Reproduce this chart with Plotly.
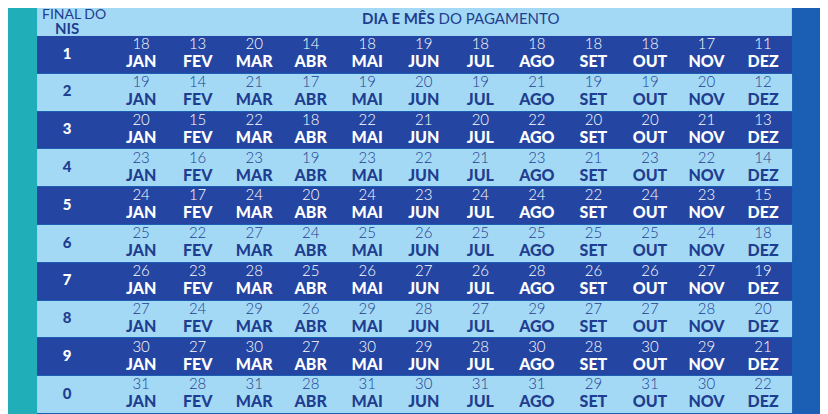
import plotly.graph_objects as go

nis = ["1", "2", "3", "4", "5", "6", "7", "8", "9", "0"]
months = ["JAN", "FEV", "MAR", "ABR", "MAI", "JUN", "JUL", "AGO", "SET", "OUT", "NOV", "DEZ"]
days = [
    [18, 13, 20, 14, 18, 19, 18, 18, 18, 18, 17, 11],
    [19, 14, 21, 17, 19, 20, 19, 21, 19, 19, 20, 12],
    [20, 15, 22, 18, 22, 21, 20, 22, 20, 20, 21, 13],
    [23, 16, 23, 19, 23, 22, 21, 23, 21, 23, 22, 14],
    [24, 17, 24, 20, 24, 23, 24, 24, 22, 24, 23, 15],
    [25, 22, 27, 24, 25, 26, 25, 25, 25, 25, 24, 18],
    [26, 23, 28, 25, 26, 27, 26, 28, 26, 26, 27, 19],
    [27, 24, 29, 26, 29, 28, 27, 29, 27, 27, 28, 20],
    [30, 27, 30, 27, 30, 29, 28, 30, 28, 30, 29, 21],
    [31, 28, 31, 28, 31, 30, 31, 31, 29, 31, 30, 22],
]

DARK = "#2446a2"
LIGHT = "#a4d9f6"
TXT_DARK = "#1f3e8f"
NIS_X = -0.31
X0, X1 = -0.84, 12.51

fig = go.Figure()

# row bands
fig.add_trace(go.Heatmap(
    x=[X0, X1], y=[r - 0.5 for r in range(len(nis) + 1)],
    z=[[r % 2] for r in range(len(nis))],
    colorscale=[[0, DARK], [1, LIGHT]], showscale=False, hoverinfo="skip",
    ygap=1,
))

for r, row in enumerate(days):
    dark = r % 2 == 0
    col = "white" if dark else TXT_DARK
    xs = [i + 1 for i in range(len(months))]
    fig.add_trace(go.Scatter(
        x=xs, y=[r - 0.25] * len(xs), mode="text", text=[str(d) for d in row],
        textfont=dict(family="Lato Light, Lato", size=15, color=col, weight=300),
        hoverinfo="skip", showlegend=False))
    fig.add_trace(go.Scatter(
        x=xs, y=[r + 0.22] * len(xs), mode="text", text=months,
        textfont=dict(family="Lato", size=16, color=col, weight=900),
        hoverinfo="skip", showlegend=False))
    fig.add_trace(go.Scatter(
        x=[NIS_X], y=[r], mode="text", text=[nis[r]],
        textfont=dict(family="Lato", size=15, color=col, weight=900),
        hoverinfo="skip", showlegend=False))

fig.update_layout(
    width=828, height=414, margin=dict(l=0, r=0, t=0, b=0),
    paper_bgcolor="#1b5fb4", plot_bgcolor="rgba(0,0,0,0)",
    xaxis=dict(range=[-1.354, 13.29], visible=False, fixedrange=True),
    yaxis=dict(range=[9.71, -1.24], visible=False, fixedrange=True),
    shapes=[
        dict(type="rect", xref="x", yref="paper", x0=-1.6, x1=X0, y0=0, y1=1,
             fillcolor="#20aeb8", line_width=0, layer="below"),
        dict(type="rect", xref="x", yref="y", x0=X0, x1=X1, y0=-1.3, y1=-0.5,
             fillcolor=LIGHT, line_width=0, layer="below"),
    ],
    annotations=[
        dict(x=X0 + 0.06, y=-1.1, xref="x", yref="y", xanchor="left", showarrow=False,
             text="FINAL DO", font=dict(family="Lato", size=14, color=TXT_DARK)),
        dict(x=NIS_X, y=-0.72, xref="x", yref="y", showarrow=False,
             text="<b>NIS</b>", font=dict(family="Lato", size=15, color=TXT_DARK)),
        dict(x=6.65, y=-0.98, xref="x", yref="y", showarrow=False,
             text="<b>DIA E MÊS</b> DO PAGAMENTO", font=dict(family="Lato", size=15, color=TXT_DARK)),
    ],
)

fig.write_html("out.html")
